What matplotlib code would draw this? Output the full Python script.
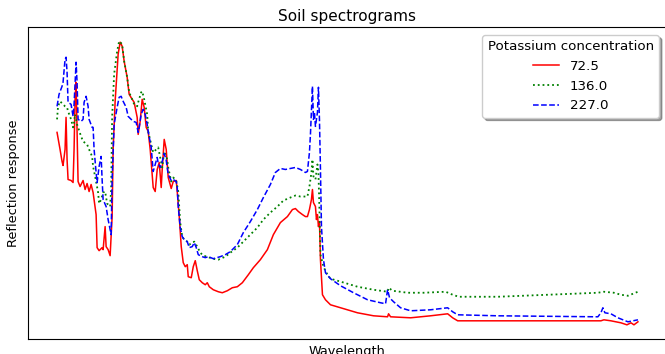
import matplotlib
matplotlib.use('Agg')
import matplotlib.pyplot as plt

plt.rcParams['font.family'] = ['DejaVu Sans']
plt.rcParams['font.size'] = 9.3

concentrations = [72.5, 136.0, 227.0]

# band index / reflection response (arbitrary units) for each soil sample
k72_band = [0, 3, 5, 6, 8, 9, 10, 11, 14, 16, 17, 18, 19, 20, 21, 23, 26, 28, 30, 32, 34, 36, 39, 40,
            42, 45, 46, 48, 49, 51, 53, 55, 56, 58, 61, 63, 65, 67, 70, 72, 75, 77, 80, 81, 83, 85, 87,
            89, 91, 93, 95, 96, 98, 100, 102, 104, 105, 107, 109, 111, 114, 116, 119, 120, 122, 124,
            126, 128, 130, 131, 134, 136, 138, 140, 142, 145, 148, 150, 152, 156, 161, 165, 170, 175,
            180, 185, 191, 196, 203, 210, 216, 223, 230, 235, 238, 241, 245, 248, 250, 252, 254, 255,
            256, 258, 259, 260, 261, 262, 263, 265, 268, 273, 283, 300, 316, 330, 331, 333, 353, 373,
            390, 395, 400, 440, 493, 543, 546, 553, 563, 566, 569, 573, 576, 580]
k72_resp = [207, 190, 178, 174, 190, 222, 180, 160, 159, 157, 190, 240, 257, 210, 158, 153, 159, 150,
            156, 148, 155, 147, 125, 92, 89, 92, 90, 113, 93, 90, 84, 123, 190, 238, 285, 297, 293, 278,
            262, 245, 240, 237, 222, 205, 218, 240, 232, 212, 208, 190, 165, 152, 148, 170, 177, 152,
            170, 200, 190, 162, 151, 158, 159, 148, 123, 93, 77, 73, 75, 63, 62, 73, 79, 69, 60, 57, 55,
            57, 53, 50, 48, 47, 49, 52, 53, 57, 65, 72, 80, 90, 105, 117, 123, 130, 131, 128, 125, 123,
            123, 130, 140, 150, 137, 133, 120, 125, 113, 118, 80, 45, 40, 35, 32, 27, 24, 23, 26, 23, 22,
            24, 26, 22, 19, 19, 19, 19, 20, 19, 17, 16, 15, 17, 15, 18]

k136_band = [0, 1, 3, 6, 8, 10, 11, 14, 16, 17, 18, 20, 21, 24, 26, 30, 32, 35, 36, 39, 41, 42, 44, 46,
             48, 50, 53, 54, 55, 57, 60, 62, 65, 67, 70, 72, 75, 77, 80, 81, 84, 85, 87, 90, 91, 94, 96,
             99, 101, 103, 105, 107, 110, 111, 114, 116, 119, 121, 123, 125, 127, 130, 132, 135, 137,
             140, 143, 146, 150, 155, 161, 168, 173, 180, 186, 193, 200, 206, 213, 220, 226, 233, 238,
             243, 248, 250, 252, 254, 255, 256, 258, 260, 261, 262, 263, 266, 270, 273, 280, 290, 300,
             316, 330, 331, 335, 350, 366, 388, 395, 401, 440, 490, 540, 546, 556, 563, 570, 575, 580]
k136_resp = [220, 233, 238, 235, 233, 232, 228, 220, 212, 217, 225, 215, 212, 203, 198, 195, 190, 183,
             173, 158, 147, 136, 140, 147, 148, 136, 133, 150, 222, 265, 288, 298, 295, 278, 262, 247,
             240, 235, 233, 237, 247, 248, 240, 225, 208, 195, 187, 190, 192, 182, 172, 188, 180, 172,
             158, 162, 159, 148, 117, 103, 100, 98, 95, 97, 98, 93, 87, 84, 83, 81, 80, 83, 87, 92, 98,
             105, 112, 120, 127, 133, 139, 142, 144, 143, 143, 143, 153, 167, 180, 163, 160, 175, 167,
             130, 85, 73, 65, 61, 59, 56, 53, 50, 48, 52, 49, 47, 47, 48, 45, 43, 43, 45, 47, 48, 47, 45,
             44, 46, 48]

k227_band = [0, 2, 5, 6, 8, 9, 10, 11, 14, 16, 17, 19, 20, 21, 24, 26, 27, 29, 31, 32, 35, 36, 37, 39,
             40, 42, 44, 45, 46, 49, 51, 53, 54, 55, 57, 60, 62, 64, 66, 69, 71, 74, 76, 79, 81, 82, 84,
             86, 88, 90, 91, 94, 96, 98, 100, 101, 103, 105, 107, 109, 111, 114, 116, 119, 120, 121, 123,
             125, 127, 130, 132, 135, 137, 139, 141, 145, 148, 151, 156, 163, 168, 173, 180, 186, 193,
             200, 206, 213, 218, 223, 228, 233, 238, 243, 248, 250, 252, 253, 255, 256, 257, 258, 260,
             261, 262, 263, 264, 266, 268, 273, 283, 296, 310, 323, 328, 330, 332, 336, 343, 353, 373,
             390, 395, 400, 440, 540, 543, 545, 547, 553, 560, 565, 570, 575, 580]
k227_resp = [233, 245, 253, 257, 280, 282, 267, 237, 235, 223, 235, 277, 257, 220, 218, 220, 237, 243,
             233, 220, 212, 212, 190, 167, 157, 173, 183, 160, 140, 133, 120, 110, 105, 160, 215, 232,
             242, 243, 238, 232, 223, 220, 218, 217, 207, 212, 225, 230, 225, 215, 208, 192, 168, 175,
             182, 176, 172, 178, 186, 179, 165, 159, 160, 158, 152, 133, 112, 103, 100, 98, 92, 93, 97,
             92, 85, 83, 82, 83, 81, 83, 85, 88, 95, 107, 118, 130, 142, 155, 167, 171, 170, 171, 172,
             170, 167, 168, 187, 205, 253, 220, 227, 213, 227, 252, 220, 170, 113, 80, 67, 61, 54, 47,
             40, 37, 36, 50, 42, 38, 32, 29, 30, 32, 28, 25, 24, 23, 27, 32, 27, 26, 22, 20, 18, 19, 20]

fig = plt.figure(figsize=(6.65, 3.54), dpi=100)
ax = fig.add_axes([28 / 665, 15 / 354, 639 / 665, 312 / 354])

ax.plot(k72_band, k72_resp, 'r-', lw=1.1, label=str(concentrations[0]))
ax.plot(k136_band, k136_resp, 'g:', lw=1.3, label=str(concentrations[1]))
ax.plot(k227_band, k227_resp, 'b--', lw=1.1, label=str(concentrations[2]))

ax.set_xticks([])
ax.set_yticks([])
ax.set_title('Soil spectrograms', fontsize=11, pad=4)
ax.set_xlabel('Wavelength')
ax.set_ylabel('Reflection response', labelpad=6)
ax.legend(title='Potassium concentration', loc='upper right', shadow=True,
          fontsize=9.6, title_fontsize=9.6, borderaxespad=0.6)

fig.savefig('out.png', dpi=100)
